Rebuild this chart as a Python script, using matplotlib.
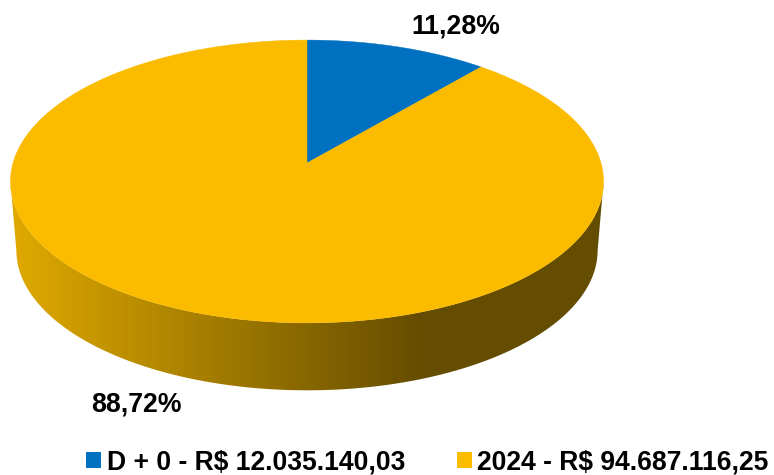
import numpy as np
import matplotlib
matplotlib.use("Agg")
import matplotlib.pyplot as plt
from matplotlib.colors import LinearSegmentedColormap
from matplotlib.patches import Patch, Polygon

categories = ["D + 0", "2024"]
values = [12035140.03, 94687116.25]
value_labels = ["R$ 12.035.140,03", "R$ 94.687.116,25"]
pct_labels = ["11,28%", "88,72%"]
colors = ["#0070C0", "#FBBC00"]

plt.rcParams["font.family"] = ["Liberation Sans", "DejaVu Sans"]

# perspective of the disc, in pixels
cx, cy = 307.0, 163.0
ax_x, ax_y, persp = 294.0, 139.0, 0.1307
depth = 69.0


def project(theta, sx=1.0, sy=1.0, dy=0.0):
    # theta clockwise from 12 o'clock
    px = np.sin(theta)
    py = np.cos(theta)
    w = 1 + persp * py
    return cx + sx * ax_x * px / w, cy + dy - sy * ax_y * py / w


fig = plt.figure(figsize=(7.74, 4.75), dpi=100)
ax = fig.add_axes([0, 0, 1, 1])
ax.set_xlim(0, 774)
ax.set_ylim(475, 0)
ax.axis("off")

# side wall with the horizontal gradient
t_all = np.linspace(0, 2 * np.pi, 720)
rim_x, rim_y = project(t_all)
base_x, base_y = project(t_all, sx=0.98, sy=0.99, dy=depth)
i_r, i_l = np.argmax(rim_x), np.argmin(rim_x)
j_r, j_l = np.argmax(base_x), np.argmin(base_x)
wall_pts = np.vstack([
    np.column_stack([rim_x[i_r:i_l + 1], rim_y[i_r:i_l + 1]]),
    np.column_stack([base_x[j_r:j_l + 1], base_y[j_r:j_l + 1]])[::-1],
])
wall = Polygon(wall_pts, closed=True, fc="none", ec="none")
ax.add_patch(wall)
shade = LinearSegmentedColormap.from_list("wall", ["#DEA800", "#644C00"])
grad = np.clip((np.arange(0, 774) - 17) / (425 - 17), 0, 1).reshape(1, -1)
im = ax.imshow(grad, cmap=shade, extent=[0, 774, 475, 0], aspect="auto", vmin=0, vmax=1, zorder=1)
im.set_clip_path(wall)

# top of the disc
shares = np.array(values) / sum(values)
angle = shares[0] * 2 * np.pi
t1 = np.linspace(0, angle, 100)
t2 = np.linspace(angle, 2 * np.pi, 500)
for t, col in zip([t1, t2], colors):
    x, y = project(t)
    pts = np.vstack([[cx, cy], np.column_stack([x, y])])
    ax.add_patch(Polygon(pts, closed=True, fc=col, ec=col, lw=0.3, zorder=2))

# data labels
ax.text(455.5, 27, pct_labels[0], fontsize=19.2, fontweight="bold", color="black", ha="center", va="center", zorder=3)
ax.text(136, 404, pct_labels[1], fontsize=19.2, fontweight="bold", color="black", ha="center", va="center", zorder=3)

handles = [Patch(fc=c, ec="none") for c in colors]
names = [f"{a} - {b}" for a, b in zip(categories, value_labels)]
ax.legend(handles, names, loc="center", bbox_to_anchor=(427.5 / 774, 1 - 462 / 475), ncol=2, frameon=False,
          prop={"size": 19.1, "weight": "bold"}, handlelength=0.56, handleheight=0.56,
          handletextpad=0.2, columnspacing=1.96, borderpad=0, borderaxespad=0)

fig.savefig("out.png", dpi=100)
